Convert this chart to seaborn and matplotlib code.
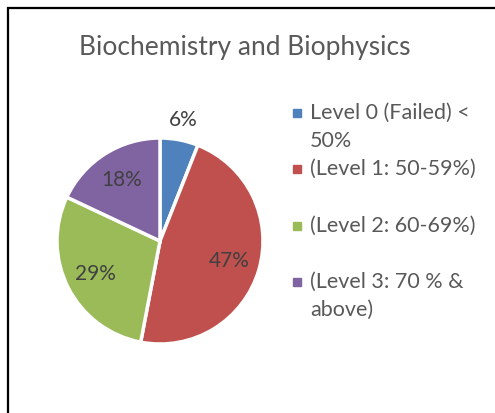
import numpy as np
import pandas as pd
import matplotlib
matplotlib.use("Agg")
import matplotlib.pyplot as plt
from matplotlib.patches import Rectangle
import seaborn as sns

# data
levels = ["Level 0 (Failed) < 50%", "(Level 1: 50-59%)", "(Level 2: 60-69%)", "(Level 3: 70 % & above)"]
legend_lines = [["Level 0 (Failed) <", "50%"], ["(Level 1: 50-59%)"], ["(Level 2: 60-69%)"], ["(Level 3: 70 % &", "above)"]]
shares = [6, 47, 29, 18]
colors = ["#4F81BD", "#C0504D", "#9BBB59", "#8064A2"]

sns.set_style("white")
plt.rcParams['font.family'] = ['Lato', 'DejaVu Sans']

W, H = 495, 413
fig = plt.figure(figsize=(W / 100, H / 100), dpi=100)

# outer chart frame (only top and left edges visible)
fig.patches.append(Rectangle((8 / W, -0.2), 1.5, 1 - 8 / H + 0.2, fill=False,
                             lw=1.6, ec="black", transform=fig.transFigure))

fig.text(245 / W, 1 - 47 / H, "Biochemistry and Biophysics", ha="center", va="center",
         fontsize=19, color="#595959")

# pie centred at (160, 241) px, radius ~102 px
cx, cy, r = 160, 241, 103
ax = fig.add_axes([(cx - r) / W, 1 - (cy + r) / H, 2 * r / W, 2 * r / H])
wedges, texts, autotexts = ax.pie(shares, colors=colors, startangle=90, counterclock=False,
                                  autopct="%d%%", pctdistance=0.7,
                                  wedgeprops=dict(edgecolor="white", linewidth=2.5),
                                  textprops=dict(fontsize=15, color="#404040"))
# smallest label sits outside the pie
mid = np.deg2rad(90 - shares[0] / sum(shares) * 360 / 2)
autotexts[0].set_position((1.2 * np.cos(mid), 1.2 * np.sin(mid)))
ax.set_xlim(-1, 1)
ax.set_ylim(-1, 1)
ax.axis("off")

# legend drawn by hand so entries sit on an even 56 px pitch
for i, (lines, c) in enumerate(zip(legend_lines, colors)):
    y0 = 113 + 56.3 * i
    fig.patches.append(Rectangle((293 / W, 1 - (y0 + 4) / H), 8 / W, 8 / H,
                                 color=c, transform=fig.transFigure))
    for j, line in enumerate(lines):
        fig.text(310 / W, 1 - (y0 + 28 * j) / H, line, ha="left", va="center",
                 fontsize=15.5, color="#595959")

fig.savefig("out.png", dpi=100)
